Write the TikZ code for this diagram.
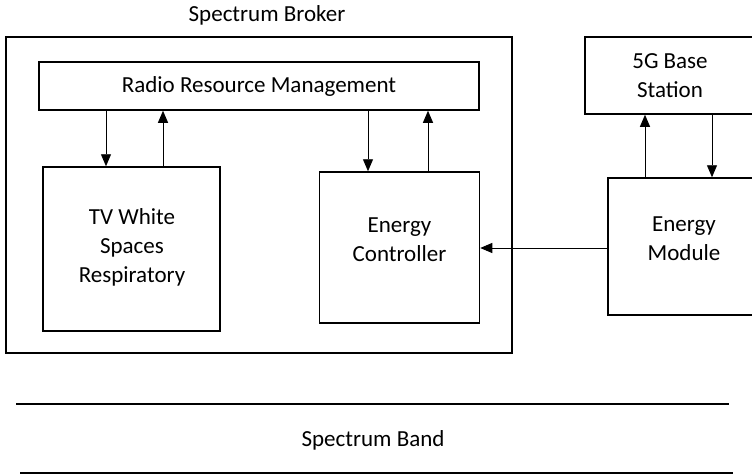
\documentclass[tikz,border=0pt]{standalone}
\usepackage{fontspec}
\setmainfont{Carlito}
\usetikzlibrary{arrows.meta}
\begin{document}
\begin{tikzpicture}[x=1pt,y=-1pt,
  every node/.style={font=\fontsize{23}{29}\selectfont},
  box/.style={draw, line width=1.5pt, inner sep=0pt, align=center},
  outerbox/.style={draw, line width=2pt, inner sep=0pt},
  txt/.style={align=center, inner sep=0pt},
  arr/.style={line width=0.9pt, -{Triangle[length=12pt,width=10pt]}}]
\useasboundingbox (0,0) rectangle (752,475);
% boxes
\node[outerbox, minimum width=506pt, minimum height=316pt] (broker) at (259,195) {};
\node[txt] (brokerlbl) at (267,15) {Spectrum Broker};
\node[box, minimum width=440pt, minimum height=48pt] (rrm) at (259,86) {Radio Resource Management};
\node[box, minimum width=177pt, minimum height=164pt] (tv) at (131.5,249) {};
\node[txt] (tvlbl) at (132,247) {TV White\\Spaces\\Respiratory};
\node[box, minimum width=160pt, minimum height=151pt] (ec) at (399.5,247.5) {};
\node[txt] (eclbl) at (399.5,240) {Energy\\Controller};
\node[box, minimum width=170pt, minimum height=77pt] (bs) at (670,75.5) {5G Base\\Station};
\node[box, minimum width=152pt, minimum height=137pt] (em) at (684,246.5) {};
\node[txt] (emlbl) at (684,239) {Energy\\Module};
% arrows
\draw[arr] (rrm.south -| 106,0) -- (tv.north -| 106,0);
\draw[arr] (tv.north -| 163,0) -- (rrm.south -| 163,0);
\draw[arr] (rrm.south -| 368,0) -- (ec.north -| 368,0);
\draw[arr] (ec.north -| 428,0) -- (rrm.south -| 428,0);
\draw[arr] (em.north -| 645,0) -- (bs.south -| 645,0);
\draw[arr] (bs.south -| 712,0) -- (em.north -| 712,0);
\draw[arr] (em.west |- 0,248) -- (ec.east |- 0,248);
% spectrum band
\coordinate (b1l) at (16,404);
\coordinate (b1r) at (729,404);
\coordinate (b2l) at (20,473);
\coordinate (b2r) at (733,473);
\draw[line width=1.2pt] (b1l) -- (b1r);
\draw[line width=2.5pt] (b2l) -- (b2r);
\node[txt] (band) at (373,440) {Spectrum Band};
\end{tikzpicture}
\end{document}
